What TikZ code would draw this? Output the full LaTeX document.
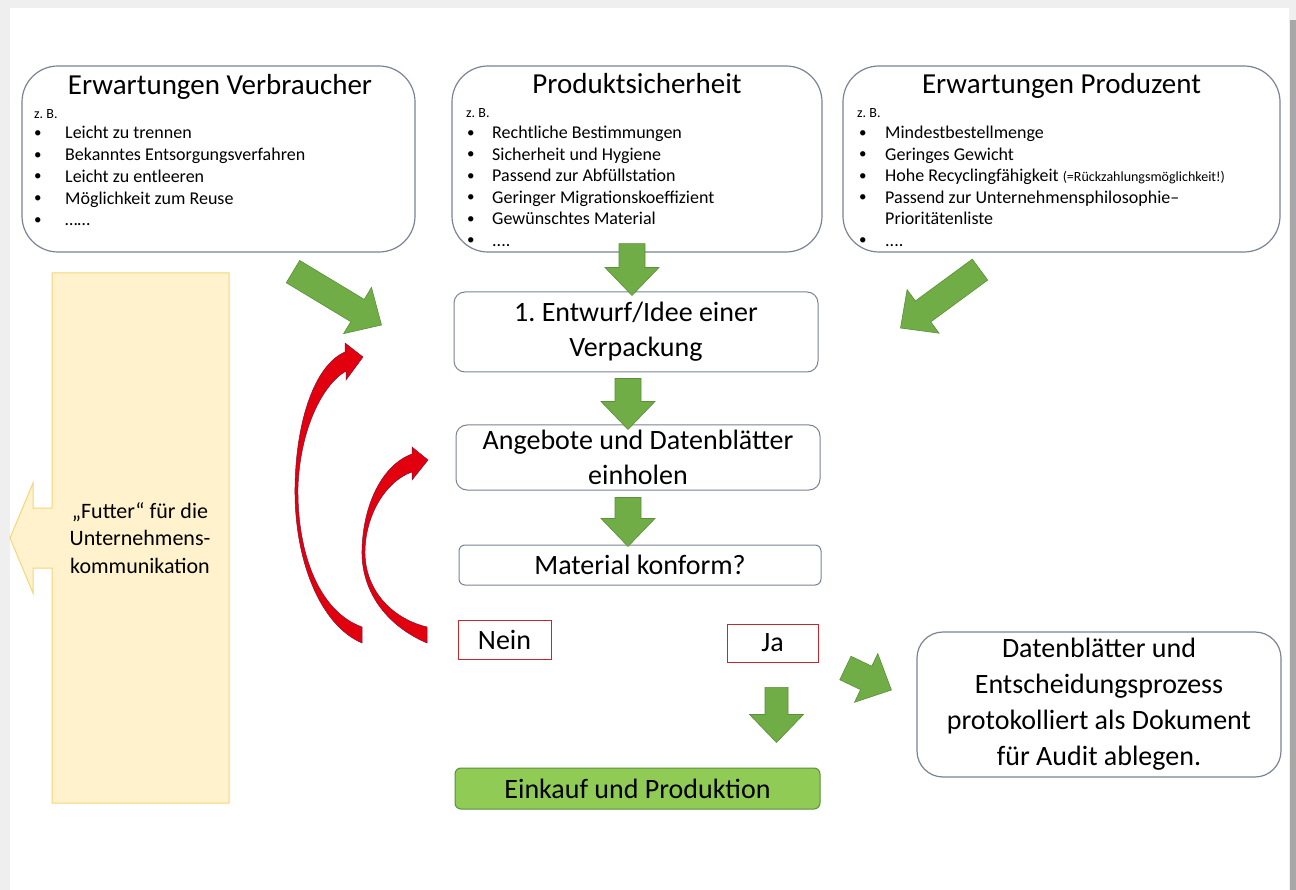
\documentclass[tikz,border=0pt]{standalone}
\usepackage{fontspec}
\setmainfont{Carlito}
\frenchspacing
\usetikzlibrary{calc}
\definecolor{boxline}{HTML}{7A8494}
\definecolor{leaf}{HTML}{70AD47}
\definecolor{leafdark}{HTML}{5B8F3A}
\definecolor{lime}{HTML}{8FCB55}
\definecolor{cream}{HTML}{FFF2CC}
\definecolor{creamline}{HTML}{F3D77A}
\definecolor{loopred}{HTML}{E2000F}
\definecolor{loopdark}{HTML}{7C1434}
\definecolor{framegray}{HTML}{EFEFEF}
\definecolor{edgegray}{HTML}{A8A8A8}
\definecolor{answerline}{HTML}{C0282D}
\newcommand{\fewdots}{....}
\newcommand{\moredots}{……}
\newcommand{\garrow}[3][13pt]{\coordinate (ga) at (#2); \coordinate (gb) at (#3);
  \coordinate (gh) at ($(gb)!28pt!(ga)$);
  \filldraw[garrow] ($(ga)!#1!90:(gb)$) -- ($(gh)!#1!90:(gb)$) -- ($(gh)!27pt!90:(gb)$) -- (gb)
    -- ($(gh)!27pt!-90:(gb)$) -- ($(gh)!#1!-90:(gb)$) -- ($(ga)!#1!-90:(gb)$) -- cycle;}
\tikzset{bigbox/.style={draw=boxline,line width=1.2pt,rounded corners=36pt,fill=white},
  midbox/.style={draw=boxline,line width=1pt,rounded corners=11pt,fill=white,align=center,font=\fontsize{28}{35}\selectfont},
  head/.style={anchor=base,inner sep=0,font=\fontsize{29}{35}\selectfont},
  zb/.style={anchor=base west,inner sep=0,font=\fontsize{14}{16}\selectfont},
  item/.style={anchor=base west,inner sep=0,font=\fontsize{18}{21.7}\selectfont},
  dot/.style={anchor=base west,inner sep=0,yshift=1.5pt,font=\fontsize{15}{18}\selectfont},
  answer/.style={draw=answerline,line width=0.8pt,fill=white,minimum width=92pt,minimum height=38pt,font=\fontsize{28}{30}\selectfont},
  garrow/.style={fill=leaf,draw=leafdark,line width=0.6pt},
  redloop/.style={fill=loopred,draw=loopdark,line width=0.5pt},
  panel/.style={fill=cream,draw=creamline,line width=1pt}}
\begin{document}
\begin{tikzpicture}[x=1pt,y=-1pt]
\useasboundingbox (0,0) rectangle (1296,890);
\fill[framegray] (0,0) rectangle (1296,890);
\fill[white] (10,8) rectangle (1289,890);
\fill[edgegray] (1290,20) rectangle (1296,890);
% top boxes
\node[bigbox,minimum width=393pt,minimum height=186pt] (verb) at (218.5,159) {};
\node[bigbox,minimum width=370pt,minimum height=186pt] (sicher) at (637,159) {};
\node[bigbox,minimum width=437pt,minimum height=186pt] (produz) at (1061.5,159) {};
\node[head] (verb-t) at ($(verb.north)+(1.5,29)$) {Erwartungen Verbraucher};
\node[head] (sicher-t) at ($(sicher.north)+(0,28)$) {Produktsicherheit};
\node[head] (produz-t) at ($(produz.north)+(0,28)$) {Erwartungen Produzent};
\node[zb] (verb-z) at (34,119) {z. B.};
\node[zb] (sicher-z) at (466,118) {z. B.};
\node[zb] (produz-z) at (857,118) {z. B.};
\foreach \t [count=\i from 0] in {Leicht zu trennen,Bekanntes Entsorgungsverfahren,Leicht zu entleeren,Möglichkeit zum Reuse,\moredots}
  {\node[dot] (verb-b\i) at (34,139+21.7*\i) {•}; \node[item] (verb-\i) at (65,139+21.7*\i) {\t};}
\foreach \t [count=\i from 0] in {Rechtliche Bestimmungen,Sicherheit und Hygiene,Passend zur Abfüllstation,Geringer Migrationskoeffizient,Gewünschtes Material,\fewdots}
  {\node[dot] (sicher-b\i) at (467,139+21.5*\i) {•}; \node[item] (sicher-\i) at (492,139+21.5*\i) {\t};}
\foreach \t [count=\i from 0] in {Mindestbestellmenge,Geringes Gewicht,{Hohe Recyclingfähigkeit {\fontsize{14}{16}\selectfont(=Rückzahlungsmöglichkeit!)}},Passend zur Unternehmensphilosophie–,Prioritätenliste,\fewdots}
  {\node[item] (produz-\i) at (885,139+21.5*\i) {\t};}
\foreach \i in {0,1,2,3,5}
  {\node[dot] (produz-b\i) at (859,139+21.5*\i) {•};}
% flow
\node[midbox,minimum width=364pt,minimum height=80pt] (entwurf) at (636,332) {1. Entwurf/Idee einer\\Verpackung};
\node[midbox,minimum width=364pt,minimum height=65pt,inner sep=0] (angebot) at (638,457.5) {Angebote und Datenblätter\\einholen};
\node[midbox,minimum width=362pt,minimum height=40pt,rounded corners=6pt] (konform) at (640,565) {Material konform?};
\node[answer,minimum width=93pt,minimum height=39pt] (nein) at (504.5,639.5) {Nein};
\node[answer,minimum width=91pt,minimum height=38pt] (ja) at (772.5,643) {Ja};
\node[midbox,fill=lime,draw=leafdark,rounded corners=6pt,minimum width=365pt,minimum height=41pt] (einkauf) at (637.5,788.5) {Einkauf und Produktion};
\node[midbox,rounded corners=26pt,line width=1.2pt,minimum width=364pt,minimum height=145pt,font=\fontsize{28}{36}\selectfont] (protokoll) at (1099,704.5) {Datenblätter und\\Entscheidungsprozess\\protokolliert als Dokument\\für Audit ablegen.};
% green arrows
\garrow{$(sicher.south)+(-5,-9)$}{$(entwurf.north)+(-4,4)$}
\garrow{$(verb.south)+(74.5,19)$}{$(entwurf.west)+(-72,-7)$}
\garrow{$(produz.south)+(-81.5,17)$}{$(entwurf.east)+(82,-4)$}
\garrow{$(entwurf.south)+(-8,6)$}{$(angebot.north)+(-10,5)$}
\garrow{$(angebot.south)+(-10,7)$}{$(konform.north)+(-12,2)$}
\garrow[11.5pt]{$(ja.south)+(4,25)$}{$(einkauf.north)+(139,-25)$}
\garrow{$(ja.east)+(27,25)$}{$(protokoll.west)+(-25,-14.5)$}
% red loops back
\filldraw[redloop] (362,643) .. controls (320,625) and (294,560) .. (295,487) .. controls (296,420) and (315,365) .. (345,352)
  -- (345,343) -- (363,357) -- (346,380) -- (346,371) .. controls (322,385) and (300,430) .. (298,487)
  .. controls (297,555) and (320,612) .. (362,627) -- cycle;
\filldraw[redloop] (427,643) .. controls (385,625) and (361,590) .. (362,550) .. controls (363,505) and (382,465) .. (412,454)
  -- (412,447) -- (428,460) -- (412,480) -- (412,472) .. controls (388,480) and (366,512) .. (365,550)
  .. controls (364,588) and (390,618) .. (427,627) -- cycle;
% left panel
\filldraw[panel] (52,273) -- (229,273) -- (229,803) -- (52,803) -- (52,568) -- (33,568) -- (33,593) -- (10,538)
  -- (33,483) -- (33,508) -- (52,508) -- cycle;
\node[align=center,font=\fontsize{22}{27.5}\selectfont] (futter) at (140,538) {„Futter“ für die\\Unternehmens-\\kommunikation};
\end{tikzpicture}
\end{document}
